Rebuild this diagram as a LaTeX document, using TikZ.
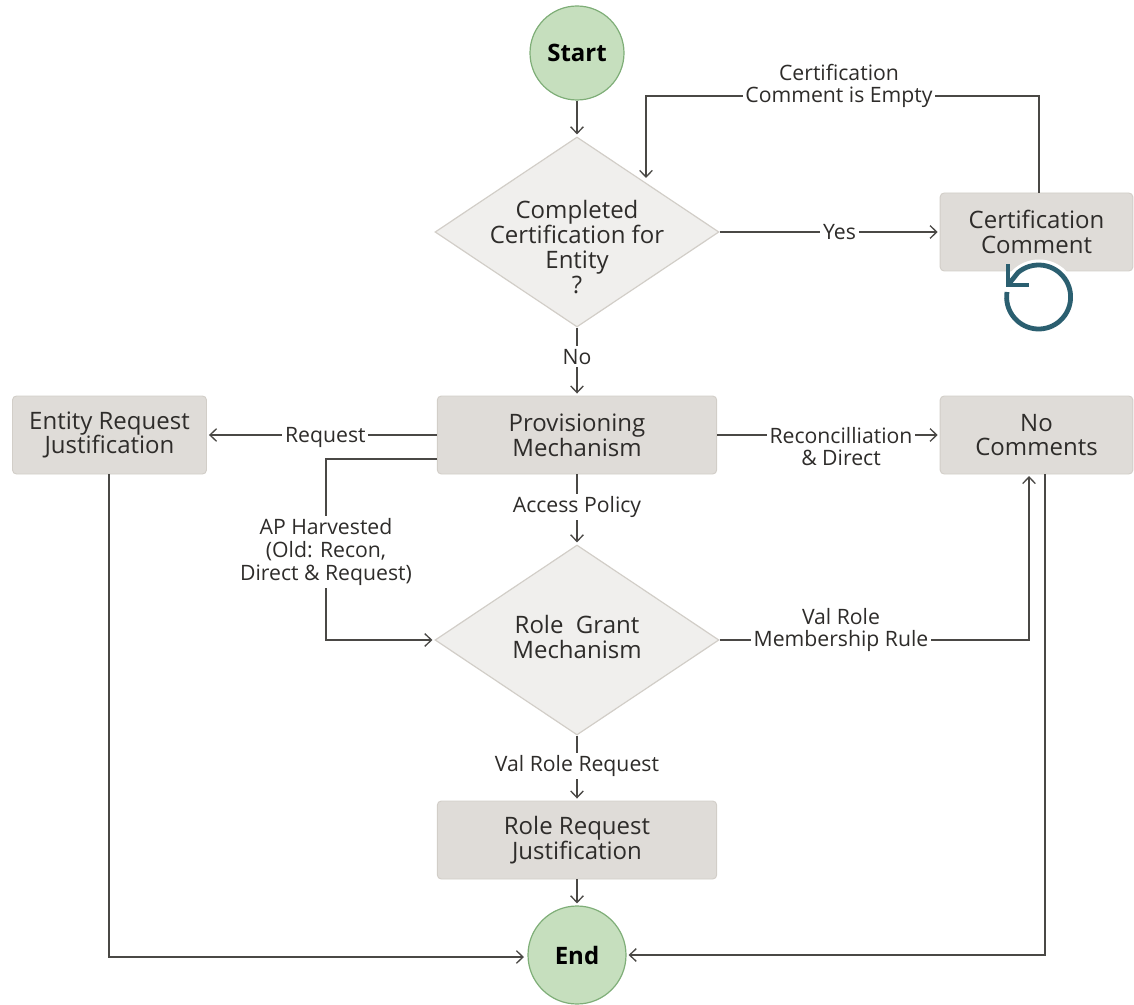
\documentclass[tikz,border=0pt]{standalone}
\usepackage{fontspec}
\setmainfont{Open Sans}
\usetikzlibrary{shapes.geometric,arrows.meta,calc}
\definecolor{boxfill}{HTML}{DFDCD8}
\definecolor{boxline}{HTML}{D2CEC8}
\definecolor{diafill}{HTML}{F0EFED}
\definecolor{greenfill}{HTML}{C6DFBE}
\definecolor{greenline}{HTML}{7FAE78}
\definecolor{linecol}{HTML}{4A4845}
\definecolor{txt}{HTML}{2E2C2A}
\definecolor{teal}{HTML}{2B5F70}
\tikzset{
  x=0.75pt,y=-0.75pt,
  flowbox/.style={rectangle,rounded corners=3pt,draw=boxline,line width=0.7pt,fill=boxfill,inner sep=0pt,
    text=txt,align=center,font=\fontsize{18}{18.6}\selectfont},
  decide/.style={diamond,draw=boxline,line width=0.9pt,fill=diafill,inner sep=0pt,
    minimum width=213pt,minimum height=142.5pt},
  decidetext/.style={inner sep=0pt,text=txt,align=center,font=\fontsize{18}{18.6}\selectfont},
  term/.style={circle,draw=greenline,line width=0.9pt,fill=greenfill,inner sep=0pt,text=black,
    font=\bfseries\fontsize{18}{20}\selectfont},
  conn/.style={draw=linecol,line width=0.8pt,shorten >=1.5pt,-{Straight Barb[length=5pt,width=9.5pt,line width=1pt]}},
  lbl/.style={fill=white,inner sep=2pt,text=txt,align=center,font=\fontsize{15.9}{17}\selectfont},
}
\begin{document}
\begin{tikzpicture}
\useasboundingbox (0,0) rectangle (1134,1005);
% nodes
\node[term,minimum size=70.5pt] (start) at (577,53) {Start};
\node[decide] (d1) at (577,232) {};
\node[decidetext] (d1t) at (577,247) {Completed\\Certification for\\Entity\\?};
\node[flowbox,minimum width=144.5pt,minimum height=58.5pt] (cert) at (1036.5,232) {Certification\\Comment};
\node[flowbox,minimum width=209.5pt,minimum height=58.5pt] (prov) at (577,435) {Provisioning\\Mechanism};
\node[flowbox,minimum width=145.5pt,minimum height=58.5pt] (ent) at (109.5,435) {Entity Request\\Justification};
\node[flowbox,minimum width=144.5pt,minimum height=58.5pt] (noc) at (1036.5,435) {No\\Comments};
\node[decide] (d2) at (577,640) {};
\node[decidetext] (d2t) at (577,637) {Role\ \ Grant\\Mechanism};
\node[flowbox,minimum width=209.5pt,minimum height=58.5pt] (rreq) at (577,840) {Role Request\\Justification};
\node[term,minimum size=73.5pt] (endn) at (577,955) {End};
% helper coordinates
\coordinate (c1a) at (1039,96);
\coordinate (c1b) at (646,96);
\coordinate (c1c) at (646,180);
\coordinate (p2a) at (437,459);
\coordinate (p2b) at (326,459);
\coordinate (p2c) at (326,640);
\coordinate (r2a) at (1029,640);
\coordinate (r2b) at (1029,474);
\coordinate (n2a) at (1045,474);
\coordinate (n2b) at (1045,955);
\coordinate (e2a) at (109,474);
\coordinate (e2b) at (109,957);
\coordinate (endL) at (526,957);
% connectors
\draw[conn] (start) -- (d1.north);
\draw[conn] (d1.east) -- node[lbl,pos=0.545] (lyes) {Yes} (cert.west);
\draw[conn] (cert.north -| c1a) -- (c1a) -- (c1b) -- (c1c);
\node[lbl] (lempty) at (839,86) {Certification\\Comment is Empty};
\draw[conn] (d1.south) -- node[lbl,pos=0.42,yshift=-0.5pt] (lno) {No} (prov.north);
\draw[conn] (prov.west) -- node[lbl,pos=0.485,yshift=-2pt] (lreq) {Request} (ent.east);
\draw[conn] (p2a) -- (p2b) -- (p2c) -- (d2.west);
\node[lbl] (lap) at (326,552) {AP Harvested\\(Old: Recon,\\Direct \& Request)};
\draw[conn] (prov.east) -- (noc.west);
\node[lbl,anchor=north] (lrec) at (841,424) {Reconcilliation\\\& Direct};
\draw[conn] (prov.south) -- node[lbl,pos=0.43,yshift=-2pt] (lacc) {Access Policy} (d2.north);
\draw[conn] (d2.east) -- (r2a) -- (r2b);
\node[lbl] (lval) at (841,630) {Val Role\\Membership Rule};
\draw[conn] (d2.south) -- node[lbl,pos=0.43,yshift=-1.7pt] (lvr) {Val Role Request} (rreq.north);
\draw[conn] (rreq.south) -- (endn.north);
\draw[conn] (e2a) -- (e2b) -- (endL);
\draw[conn] (n2a) -- (n2b) -- (endn.east);
% refresh icon
\fill[white] (1039,297.5) circle[radius=38];
\draw[teal,line width=3.6pt,line join=miter] (1007,292) arc[start angle=189,end angle=-130,radius=32] -- (1008,285);
\draw[teal,line width=3.6pt] (1008,264) -- (1008,285) -- (1029,285);
\end{tikzpicture}
\end{document}
